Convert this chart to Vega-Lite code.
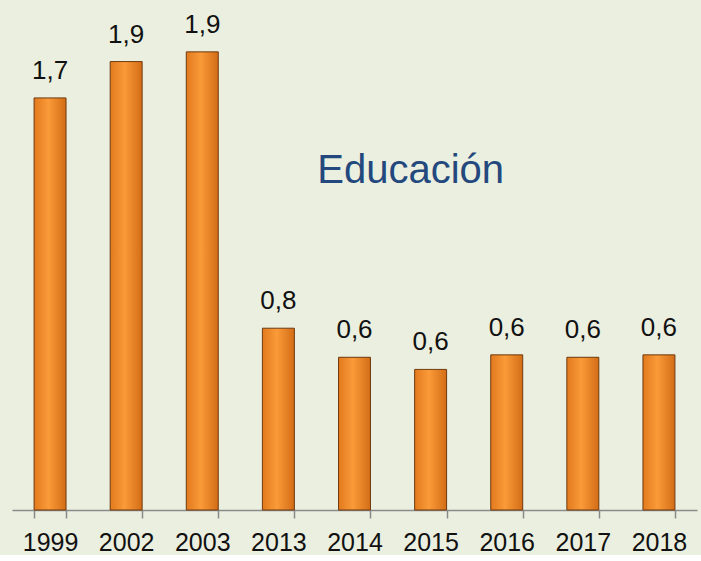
{
  "$schema": "https://vega.github.io/schema/vega-lite/v6.json",
  "width": 685,
  "height": 510,
  "padding": {"left": 12, "top": 0, "right": 4, "bottom": 0},
  "background": "#ebefdf",
  "config": {"view": {"stroke": null}, "font": "Liberation Sans"},
  "data": {"values": [
    {"year": "1999", "value": 1.70, "label": "1,7"},
    {"year": "2002", "value": 1.85, "label": "1,9"},
    {"year": "2003", "value": 1.89, "label": "1,9"},
    {"year": "2013", "value": 0.75, "label": "0,8"},
    {"year": "2014", "value": 0.63, "label": "0,6"},
    {"year": "2015", "value": 0.58, "label": "0,6"},
    {"year": "2016", "value": 0.64, "label": "0,6"},
    {"year": "2017", "value": 0.63, "label": "0,6"},
    {"year": "2018", "value": 0.64, "label": "0,6"}
  ]},
  "encoding": {
    "x": {"field": "year", "type": "nominal", "sort": null,
      "scale": {"paddingInner": 0.58, "paddingOuter": 0.29},
      "axis": {"title": null, "labelAngle": 0, "labelFontSize": 25, "labelColor": "#111111",
        "labelFont": "Liberation Sans", "labelPadding": 12,
        "tickBand": "extent", "tickSize": 8, "tickColor": "#8a8a8a", "domainColor": "#8a8a8a", "domainWidth": 1.5, "tickWidth": 1.5}},
    "y": {"field": "value", "type": "quantitative", "scale": {"domain": [0, 2.104], "nice": false}, "axis": null}
  },
  "layer": [
    {"mark": {"type": "bar", "stroke": "#6e3a10", "strokeWidth": 1,
      "fill": {"x1": 0, "y1": 0, "x2": 1, "y2": 0, "gradient": "linear",
        "stops": [{"offset": 0, "color": "#e27a1e"}, {"offset": 0.45, "color": "#fa9a38"}, {"offset": 1, "color": "#d36d16"}]}}},
    {"mark": {"type": "text", "baseline": "alphabetic", "dy": -19, "fontSize": 26, "color": "#111111"},
      "encoding": {"text": {"field": "label"}}},
    {"data": {"values": [{"t": "Educación", "year": "2015", "value": 1.4}]},
      "mark": {"type": "text", "baseline": "alphabetic", "dx": -20, "dy": 0, "fontSize": 40, "color": "#23487e"},
      "encoding": {"text": {"field": "t"}, "y": {"datum": 1.348, "type": "quantitative"}}}
  ]
}
